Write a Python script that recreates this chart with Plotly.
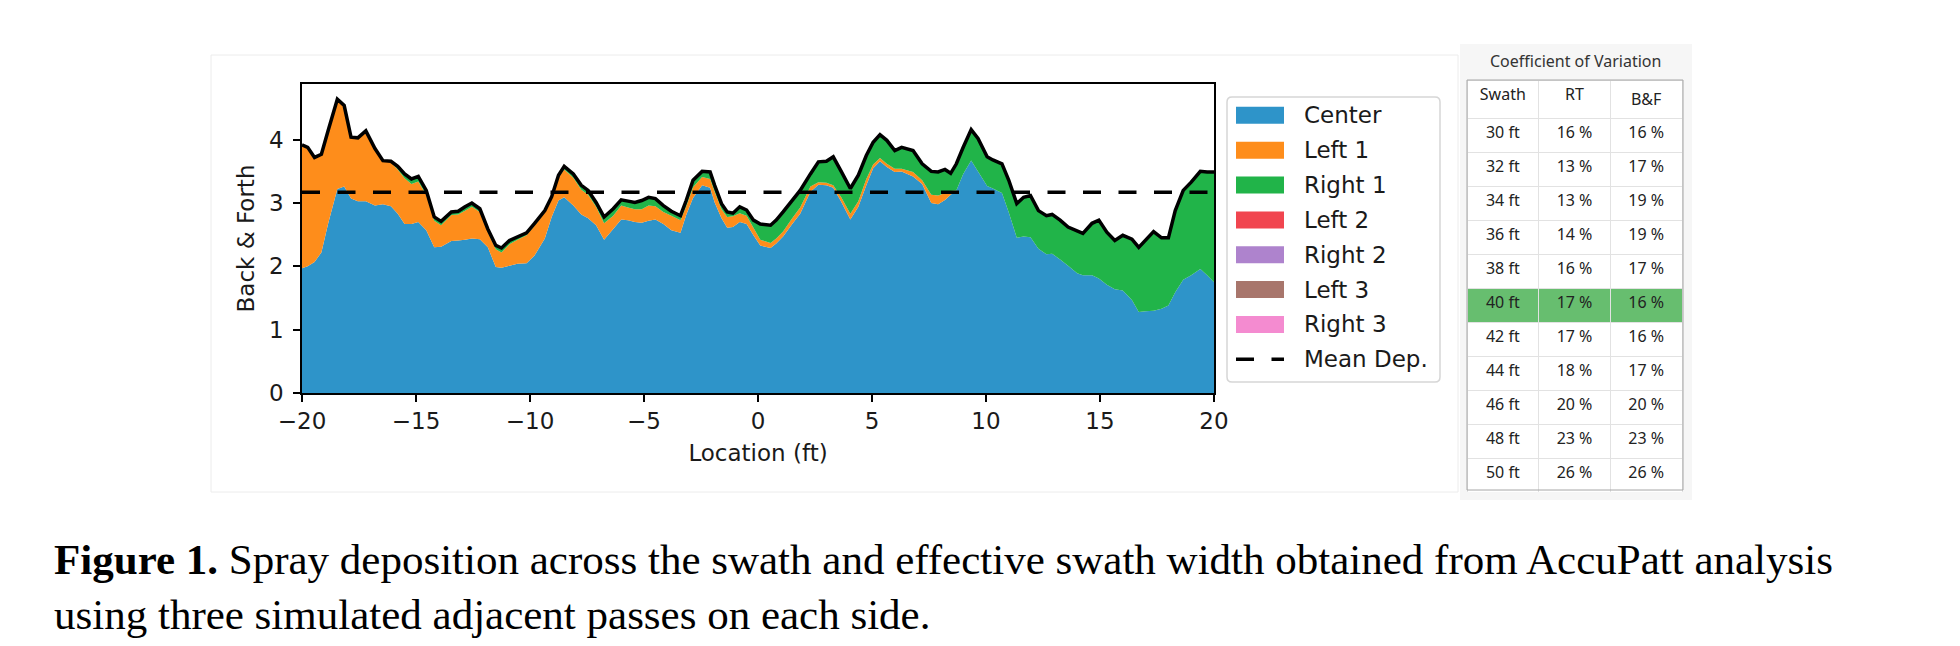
import numpy as np
import plotly.graph_objects as go

W, H = 1960, 646
OFF = 8  # the page body margin shifts the figure by this much

# deposition across the swath
x_ft = [-20, -19.75, -19.45, -19.15, -18.85, -18.45, -18.15, -17.85, -17.55, -17.2,
        -16.8, -16.45, -16.1, -15.8, -15.5, -15.2, -14.9, -14.55, -14.2, -13.9,
        -13.45, -13.15, -12.85, -12.55, -12.2, -11.85, -11.5, -11.25, -10.9, -10.55,
        -10.15, -9.8, -9.35, -9.05, -8.75, -8.5, -8.1, -7.75, -7.45, -7.1, -6.75,
        -6.35, -6.0, -5.7, -5.4, -5.1, -4.8, -4.5, -4.15, -3.8, -3.4,
        -3.15, -2.85, -2.45, -2.1, -1.9, -1.6, -1.35, -1.1, -0.8, -0.5,
        -0.2, 0.1, 0.55, 0.8, 1.1, 1.5, 1.85, 2.3, 2.65, 3.0,
        3.3, 3.65, 4.05, 4.4, 4.75, 5.05, 5.35, 5.65, 6.0, 6.3,
        6.8, 7.2, 7.6, 7.9, 8.2, 8.45, 8.7, 9.0, 9.35, 9.65,
        10.05, 10.3, 10.7, 11.0, 11.35, 11.65, 11.95, 12.3, 12.65, 12.9,
        13.25, 13.6, 14.0, 14.25, 14.65, 14.95, 15.3, 15.65, 16.0, 16.4,
        16.7, 17.0, 17.35, 17.7, 18.0, 18.3, 18.65, 19.0, 19.4, 19.7, 20.0]

center = [1.97, 2.00, 2.07, 2.22, 2.68, 3.22, 3.26, 3.07, 3.03, 3.03,
          2.96, 2.98, 2.95, 2.83, 2.67, 2.67, 2.70, 2.57, 2.30, 2.31,
          2.40, 2.41, 2.42, 2.44, 2.43, 2.30, 1.99, 1.98, 2.01, 2.04,
          2.05, 2.17, 2.44, 2.78, 3.04, 3.09, 2.96, 2.82, 2.76, 2.65, 2.42,
          2.59, 2.74, 2.73, 2.70, 2.69, 2.72, 2.74, 2.67, 2.57, 2.53,
          2.81, 3.08, 3.28, 3.24, 3.01, 2.76, 2.61, 2.62, 2.70, 2.67,
          2.49, 2.33, 2.29, 2.36, 2.47, 2.67, 2.83, 3.18, 3.29, 3.28,
          3.24, 3.02, 2.74, 2.94, 3.28, 3.55, 3.66, 3.57, 3.49, 3.50,
          3.42, 3.30, 3.00, 2.98, 3.05, 3.13, 3.20, 3.46, 3.67, 3.50,
          3.27, 3.23, 3.16, 2.85, 2.45, 2.47, 2.46, 2.28, 2.19, 2.20,
          2.11, 2.01, 1.89, 1.86, 1.86, 1.81, 1.71, 1.64, 1.62, 1.47,
          1.28, 1.29, 1.30, 1.33, 1.38, 1.59, 1.79, 1.86, 1.96, 1.86, 1.75]

left_1 = [1.95, 1.88, 1.65, 1.55, 1.47, 1.42, 1.28, 0.97, 1.00, 1.11,
          0.90, 0.69, 0.69, 0.70, 0.72, 0.63, 0.64, 0.56, 0.42, 0.34,
          0.41, 0.41, 0.46, 0.50, 0.43, 0.24, 0.28, 0.24, 0.34, 0.38,
          0.44, 0.47, 0.41, 0.29, 0.36, 0.44, 0.44, 0.39, 0.37, 0.29, 0.26,
          0.21, 0.22, 0.20, 0.20, 0.21, 0.24, 0.21, 0.19, 0.23, 0.20,
          0.14, 0.17, 0.13, 0.14, 0.17, 0.14, 0.17, 0.17, 0.14, 0.13,
          0.12, 0.09, 0.08, 0.08, 0.08, 0.09, 0.10, 0.08, 0.04, 0.04,
          0.04, 0.07, 0.09, 0.09, 0.10, 0.06, 0.05, 0.05, 0.05, 0.04,
          0.07, 0.06, 0.13, 0.14, 0.11, 0.06, 0, 0, 0, 0,
          0, 0, 0, 0, 0, 0, 0, 0, 0, 0,
          0, 0, 0, 0, 0, 0, 0, 0, 0, 0,
          0, 0, 0, 0, 0, 0, 0, 0, 0, 0, 0]

right_1 = [0, 0, 0, 0, 0, 0, 0, 0, 0, 0,
           0, 0, 0.02, 0.05, 0.07, 0.08, 0.08, 0.07, 0.06, 0.06,
           0.05, 0.05, 0.06, 0.06, 0.05, 0.05, 0.06, 0.07, 0.06, 0.05,
           0.04, 0.04, 0.03, 0.03, 0.04, 0.05, 0.06, 0.07, 0.07, 0.07, 0.10,
           0.11, 0.09, 0.10, 0.11, 0.14, 0.13, 0.12, 0.10, 0.07, 0.07,
           0.09, 0.11, 0.09, 0.11, 0.10, 0.09, 0.08, 0.05, 0.10, 0.09,
           0.12, 0.25, 0.28, 0.29, 0.31, 0.28, 0.27, 0.20, 0.32, 0.34,
           0.45, 0.41, 0.40, 0.41, 0.37, 0.35, 0.37, 0.37, 0.29, 0.34,
           0.34, 0.26, 0.37, 0.37, 0.37, 0.28, 0.42, 0.42, 0.49, 0.52,
           0.46, 0.45, 0.46, 0.51, 0.54, 0.62, 0.66, 0.60, 0.61, 0.62,
           0.62, 0.61, 0.66, 0.66, 0.82, 0.92, 0.83, 0.77, 0.87, 0.96,
           1.02, 1.12, 1.25, 1.12, 1.07, 1.29, 1.41, 1.47, 1.54, 1.63, 1.74]

# outer passes contribute nothing inside the swath
left_2 = [0.0] * len(x_ft)
right_2 = [0.0] * len(x_ft)
left_3 = [0.0] * len(x_ft)
right_3 = [0.0] * len(x_ft)

mean_dep = 3.17

# coefficient of variation table
swath_ft = [30, 32, 34, 36, 38, 40, 42, 44, 46, 48, 50]
cv_rt = [16, 13, 13, 14, 16, 17, 17, 18, 20, 23, 26]
cv_bf = [16, 17, 19, 19, 17, 16, 16, 17, 20, 23, 26]
best_swath = 40

passes = [
    ("Center", center, "#2e94c9"),
    ("Left 1", left_1, "#fe8d1b"),
    ("Right 1", right_1, "#21b449"),
    ("Left 2", left_2, "#f1454f"),
    ("Right 2", right_2, "#ae83cd"),
    ("Left 3", left_3, "#a8766c"),
    ("Right 3", right_3, "#f48bd0"),
]

DASH = "18px,17.5px"
TXT = "#1a1a1a"
FONT = "DejaVu Sans"


def px(x):
    return (x - OFF) / W


def py(y):
    return 1 - (y - OFF) / H


fig = go.Figure()

for name, vals, col in passes:
    fig.add_trace(go.Scatter(
        x=x_ft, y=vals, name=name, stackgroup="passes", mode="none",
        fillcolor=col, showlegend=False, hoverinfo="skip",
    ))

total = np.sum([p[1] for p in passes], axis=0)
fig.add_trace(go.Scatter(x=x_ft, y=total, mode="lines",
                         line=dict(color="black", width=3.5), showlegend=False))
fig.add_trace(go.Scatter(x=[x_ft[0], x_ft[-1]], y=[mean_dep, mean_dep], mode="lines",
                         line=dict(color="black", width=3.5, dash=DASH), showlegend=False))

axis_style = dict(
    showline=True, linecolor="black", linewidth=1.6, mirror=True,
    ticks="outside", ticklen=7, tickwidth=1.6, tickcolor="black",
    showgrid=False, zeroline=False, automargin=False,
    tickfont=dict(family=FONT, size=23, color=TXT),
)
fig.update_xaxes(
    domain=[px(302), px(1214)], range=[-20, 20],
    tickvals=list(range(-20, 21, 5)),
    title=dict(text="Location (ft)", font=dict(family=FONT, size=23, color=TXT), standoff=11),
    **axis_style,
)
fig.update_yaxes(
    domain=[py(393), py(84)], range=[0, 4.88],
    tickvals=[0, 1, 2, 3, 4], ticklabelstandoff=5,
    title=dict(text="Back &amp; Forth", font=dict(family=FONT, size=23, color=TXT), standoff=8),
    **axis_style,
)

shapes = []
annotations = []

# faint figure frame and the table panel
shapes.append(dict(type="rect", xref="paper", yref="paper", x0=px(211), x1=px(1458),
                   y0=py(492), y1=py(55), line=dict(color="#ececec", width=1), layer="below"))
shapes.append(dict(type="rect", xref="paper", yref="paper", x0=px(1460), x1=px(1692),
                   y0=py(500), y1=py(44), line=dict(width=0), fillcolor="#f6f6f6", layer="below"))

# legend drawn by hand to match the swatch sizes
lx0, lx1, ly0, ly1, r = 1227, 1440, 97, 382, 5
path = (f"M {px(lx0 + r)},{py(ly0)} L {px(lx1 - r)},{py(ly0)} "
        f"Q {px(lx1)},{py(ly0)} {px(lx1)},{py(ly0 + r)} L {px(lx1)},{py(ly1 - r)} "
        f"Q {px(lx1)},{py(ly1)} {px(lx1 - r)},{py(ly1)} L {px(lx0 + r)},{py(ly1)} "
        f"Q {px(lx0)},{py(ly1)} {px(lx0)},{py(ly1 - r)} L {px(lx0)},{py(ly0 + r)} "
        f"Q {px(lx0)},{py(ly0)} {px(lx0 + r)},{py(ly0)} Z")
shapes.append(dict(type="path", xref="paper", yref="paper", path=path,
                   line=dict(color="#d6d6d6", width=1.5), fillcolor="white"))

legend_items = [(p[0], p[2]) for p in passes] + [("Mean Dep.", None)]
for i, (name, col) in enumerate(legend_items):
    yc = 115.3 + i * 34.86
    if col:
        shapes.append(dict(type="rect", xref="paper", yref="paper",
                           x0=px(1236), x1=px(1284), y0=py(yc + 8.5), y1=py(yc - 8.5),
                           line=dict(width=0), fillcolor=col))
    else:
        shapes.append(dict(type="line", xref="paper", yref="paper",
                           x0=px(1236), x1=px(1284), y0=py(yc), y1=py(yc),
                           line=dict(color="black", width=3.5, dash=DASH)))
    annotations.append(dict(text=name, xref="paper", yref="paper", x=px(1302), y=py(yc),
                            xanchor="left", yanchor="middle", showarrow=False,
                            font=dict(family=FONT, size=23, color=TXT)))

# table
annotations.append(dict(text="Coefficient of Variation", xref="paper", yref="paper",
                        x=px(1575), y=py(61), xanchor="center", yanchor="middle",
                        showarrow=False, font=dict(family="Noto Sans", size=16, color="#333")))

row_fill = ["#67be6f" if s == best_swath else "white" for s in swath_ft]
tfont = dict(family="Noto Sans", size=16, color="#222")
fig.add_trace(go.Table(
    domain=dict(x=[px(1467), px(1683)], y=[py(492), py(80)]),
    columnwidth=[1, 1, 1],
    header=dict(values=["Swath", "RT", "B&amp;F"], height=36, fill_color="white",
                line=dict(color="#e2e2e2", width=1), font=tfont, align="center"),
    cells=dict(values=[[f"{s} ft" for s in swath_ft],
                       [f"{v} %" for v in cv_rt],
                       [f"{v} %" for v in cv_bf]],
               height=34, fill_color=[row_fill] * 3,
               line=dict(color="#e2e2e2", width=1), font=tfont, align="center"),
))
shapes.append(dict(type="rect", xref="paper", yref="paper", x0=px(1467), x1=px(1683),
                   y0=py(490), y1=py(80), line=dict(color="#a6a6a6", width=1)))

# caption
cap_font = dict(family="Liberation Serif", size=43, color="black")
annotations.append(dict(
    text="<b>Figure 1.</b> Spray deposition across the swath and effective swath width obtained from AccuPatt analysis",
    xref="paper", yref="paper", x=px(52), y=py(559), xanchor="left", yanchor="middle",
    showarrow=False, font=cap_font))
annotations.append(dict(
    text="using three simulated adjacent passes on each side.",
    xref="paper", yref="paper", x=px(52), y=py(614), xanchor="left", yanchor="middle",
    showarrow=False, font=cap_font))

fig.update_layout(
    width=W, height=H, margin=dict(l=0, r=0, t=0, b=0, autoexpand=False),
    paper_bgcolor="white", plot_bgcolor="white", showlegend=False,
    shapes=shapes, annotations=annotations,
)

fig.write_html("out.html")
